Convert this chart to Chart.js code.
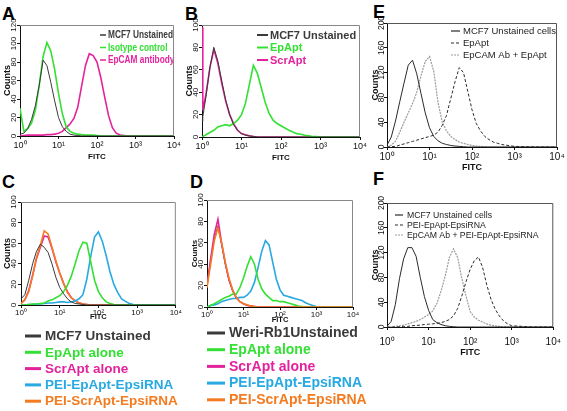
<!DOCTYPE html>
<html>
<head>
<meta charset="utf-8">
<script src="https://cdn.jsdelivr.net/npm/chart.js@4.4.1/dist/chart.umd.min.js"></script>
<style>
  body { margin: 0; background: #fff; width: 567px; height: 411px; position: relative; overflow: hidden; }
  canvas { position: absolute; }
  .tag { position: absolute; font: bold 18px Arial, "Liberation Sans", sans-serif; line-height: 18px; color: #000; }
</style>
</head>
<body>
<div class="tag" style="left:2px;top:5px">A</div>
<div class="tag" style="left:185px;top:5px">B</div>
<div class="tag" style="left:373px;top:3px">E</div>
<div class="tag" style="left:2px;top:173px">C</div>
<div class="tag" style="left:190px;top:173px">D</div>
<div class="tag" style="left:373px;top:170px">F</div>
<canvas id="pA" width="182" height="170" style="left:0;top:0"></canvas>
<canvas id="pB" width="188" height="170" style="left:182px;top:0"></canvas>
<canvas id="pE" width="197" height="175" style="left:370px;top:0"></canvas>
<canvas id="pC" width="182" height="241" style="left:0;top:170px"></canvas>
<canvas id="pD" width="180" height="241" style="left:190px;top:170px"></canvas>
<canvas id="pF" width="197" height="236" style="left:370px;top:175px"></canvas>
<script>
const FONT = 'Arial, "Liberation Sans", sans-serif'

// x positions are log10(FITC) decades, 10^0 .. 10^4
const xTickValues = [0, 1, 2, 3, 4]
const xTickLabels = ['10⁰', '10¹', '10²', '10³', '10⁴']
const yTicks100 = [0, 20, 40, 60, 80, 100]
const yTicks120 = [0, 20, 40, 60, 80, 100, 120]
const yTicks200 = [0, 40, 80, 120, 160, 200]

const fitcDecades = [0, 0.1, 0.2, 0.3, 0.4, 0.5, 0.6, 0.7, 0.8, 0.9, 1.0, 1.1, 1.2, 1.3, 1.4, 1.5, 1.6, 1.7, 1.8, 1.9,
  2.0, 2.1, 2.2, 2.3, 2.4, 2.5, 2.6, 2.7, 2.8, 2.9, 3.0, 3.5, 4.0]
const fitcDecadesB = [0, 0.02, 0.1, 0.2, 0.3, 0.4, 0.5, 0.6, 0.7, 0.8, 0.9, 1.0, 1.1, 1.2, 1.3, 1.4, 1.5, 1.6, 1.7, 1.8, 1.9,
  2.0, 2.1, 2.2, 2.3, 2.4, 2.5, 2.6, 2.7, 2.8, 2.9, 3.0, 3.5, 4.0]

// A
const legendA = ['MCF7 Unstained', 'Isotype control', 'EpCAM antibody']
const aUnstained = [2, 3, 8, 18, 33, 55, 82, 76, 58, 38, 20, 10, 5, 2, 1, 0.5, 0, 0, 0, 0, 0, 0, 0, 0, 0, 0, 0, 0, 0, 0, 0, 0, 0]
const aIsotype = [30, 5, 8, 14, 28, 55, 86, 101, 92, 72, 46, 24, 10, 5, 3, 2, 1.5, 1, 1, 1, 0.5, 0, 0, 0, 0, 0, 0, 0, 0, 0, 0, 0, 0]
const aEpcamAb = [0, 0.5, 1, 1, 1, 1, 1, 1.5, 1.5, 2, 3, 5, 9, 13, 19, 31, 54, 76, 89, 87, 80, 63, 42, 22, 9, 3, 1, 0.5, 0, 0, 0, 0, 0]

// B
const legendB = ['MCF7 Unstained', 'EpApt', 'ScrApt']
const bUnstained = [14, 18, 36, 62, 80, 68, 50, 33, 20, 11, 6, 3, 1.5, 1, 0.5, 0, 0, 0, 0, 0, 0, 0, 0, 0, 0, 0, 0, 0, 0, 0, 0, 0, 0, 0]
const bEpApt = [0, 0.5, 2, 4, 6, 9, 10, 11, 10, 12, 15, 20, 30, 47, 64, 57, 44, 31, 21, 15, 12, 10, 8, 6, 4.5, 3, 2.5, 1.5, 1, 0.5, 0.3, 0, 0, 0]
const bScrApt = [98, 24, 38, 62, 78, 66, 48, 32, 20, 12, 6, 3, 2, 1, 0.5, 0, 0, 0, 0, 0, 0, 0, 0, 0, 0, 0, 0, 0, 0, 0, 0, 0, 0, 0]

// C
const legendC = ['MCF7 Unstained', 'EpApt alone', 'ScrApt alone', 'PEI-EpApt-EpsiRNA', 'PEI-ScrApt-EpsiRNA']
const cUnstained = [6, 10, 24, 40, 52, 59, 56, 51, 40, 27, 17, 11, 6, 3, 1.5, 1, 0.5, 0, 0, 0, 0, 0, 0, 0, 0, 0, 0, 0, 0, 0, 0, 0, 0]
const cEpApt = [0, 0, 0.5, 1, 1, 1.5, 2, 4, 5, 7, 9, 13, 19, 28, 40, 53, 61, 60, 42, 24, 13, 7, 3, 1.5, 0.5, 0, 0, 0, 0, 0, 0, 0, 0]
const cScrApt = [2, 5, 14, 29, 45, 56, 67, 66, 55, 42, 31, 21, 13, 7, 4, 2, 1, 0.5, 0, 0, 0, 0, 0, 0, 0, 0, 0, 0, 0, 0, 0, 0, 0]
const cPeiEpApt = [0, 0, 0.5, 0.5, 1, 1, 1.5, 2, 2, 2.5, 3, 3, 2.5, 3, 4, 6, 10, 25, 47, 66, 71, 62, 48, 32, 20, 12, 6, 3.5, 1.5, 0.5, 0, 0, 0]
const cPeiScrApt = [1, 5, 13, 28, 46, 58, 72, 69, 56, 43, 31, 21, 12, 7, 4, 2, 1, 0.5, 0, 0, 0, 0, 0, 0, 0, 0, 0, 0, 0, 0, 0, 0, 0]

// D
const legendD = ['Weri-Rb1Unstained', 'EpApt alone', 'ScrApt alone', 'PEI-EpApt-EpsiRNA', 'PEI-ScrApt-EpsiRNA']
const dUnstained = [22, 43, 63, 76, 58, 40, 25, 15, 8, 5, 3, 1.5, 1, 0.5, 0, 0, 0, 0, 0, 0, 0, 0, 0, 0, 0, 0, 0, 0, 0, 0, 0, 0, 0]
const dEpApt = [0, 1.5, 3, 5, 7, 9, 10, 12, 12, 18, 27, 38, 47, 40, 26, 17, 12, 9, 6, 6, 5, 5, 4, 3, 2, 1, 0.5, 0, 0, 0, 0, 0, 0]
const dScrApt = [20, 45, 68, 82, 60, 41, 26, 16, 9, 5, 3, 1.5, 1, 0.5, 0, 0, 0, 0, 0, 0, 0, 0, 0, 0, 0, 0, 0, 0, 0, 0, 0, 0, 0]
const dPeiEpApt = [0, 1.5, 2, 3, 5, 6, 7, 8, 8, 9, 9, 11, 15, 23, 37, 52, 62, 58, 42, 26, 16, 11, 10, 9, 8, 7, 6, 4, 2.5, 1.5, 0.5, 0, 0]
const dPeiScrApt = [18, 40, 62, 74, 60, 42, 27, 16, 9, 5, 3, 2, 1, 0.5, 0, 0, 0, 0, 0, 0, 0, 0, 0, 0, 0, 0, 0, 0, 0, 0, 0, 0, 0]

// E
const legendE = ['MCF7 Unstained cells', 'EpApt', 'EpCAM Ab + EpApt']
const eUnstained = [3, 16, 42, 73, 103, 132, 140, 118, 86, 55, 31, 17, 10, 6, 4, 2.5, 1.5, 1, 0.5, 0, 0, 0, 0, 0, 0, 0, 0, 0, 0, 0, 0, 0, 0]
const eEpApt = [0, 0.5, 1, 3, 5, 7, 9, 11, 13, 15, 17, 19, 24, 35, 51, 78, 105, 128, 120, 90, 60, 38, 26, 17, 12, 8, 6, 4, 3, 2, 1, 0, 0]
const eAbEpApt = [0, 3, 9, 24, 40, 55, 70, 88, 115, 138, 146, 122, 72, 40, 26, 17, 12, 8, 6, 4, 2.5, 1.5, 1, 0.5, 0, 0, 0, 0, 0, 0, 0, 0, 0]

// F
const legendF = ['MCF7 Unstained cells', 'PEI-EpApt-EpsiRNA', 'EpCAM Ab + PEI-EpApt-EpsiRNA']
const fUnstained = [1, 9, 36, 78, 110, 128, 128, 114, 80, 49, 27, 12, 7, 4, 2, 1, 0.5, 0, 0, 0, 0, 0, 0, 0, 0, 0, 0, 0, 0, 0, 0, 0, 0]
const fPeiEpApt = [0, 0, 0, 0.5, 1, 1, 2, 2.5, 3, 4, 4.5, 5, 6, 7, 9, 12, 18, 30, 50, 73, 93, 107, 113, 96, 68, 45, 29, 18, 10, 5, 2, 0, 0]
const fAbPeiEpApt = [0, 0, 1, 2, 3, 5, 7, 9, 12, 16, 20, 26, 38, 58, 82, 112, 126, 112, 78, 50, 25, 16, 11, 8, 5, 3, 2, 1, 0.5, 0, 0, 0, 0]

const BLACK = '#3a3a3a', GREEN = '#33e033', PINK = '#e3239c', BLUE = '#27a9e1', ORANGE = '#f47b20'
const DARK = '#2a2a2a', LIGHT = '#9c9c9c'

function series(label, grid, values, color, extra) {
  return Object.assign({
    label: label,
    data: grid.map((d, i) => ({ x: d, y: values[i] })),
    borderColor: color,
    borderWidth: 1.6,
    pointRadius: 0,
    tension: 0,
    fill: false
  }, extra || {})
}

// legend drawn inside / below the plot: short line + label
const lineLegend = {
  id: 'lineLegend',
  afterDraw(chart, args, o) {
    const ctx = chart.ctx
    ctx.save()
    ctx.font = o.font
    ctx.textBaseline = 'middle'
    chart.data.datasets.forEach((ds, i) => {
      const y = o.y + i * o.rowH
      ctx.strokeStyle = ds.borderColor
      ctx.lineWidth = o.lineWidth
      ctx.setLineDash(ds.borderDash || [])
      ctx.beginPath()
      ctx.moveTo(o.x, y)
      ctx.lineTo(o.x + o.lineLen, y)
      ctx.stroke()
      ctx.setLineDash([])
      ctx.fillStyle = o.textColor || ds.borderColor
      ctx.save()
      ctx.translate(o.x + o.lineLen + o.gap, y + 0.5)
      ctx.scale(o.hScale || 1, 1)
      ctx.fillText(ds.label, 0, 0)
      ctx.restore()
    })
    ctx.restore()
  }
}

// rotated y tick labels
const yTickText = {
  id: 'yTickText',
  afterDraw(chart, args, o) {
    const ctx = chart.ctx, scale = chart.scales.y
    ctx.save()
    ctx.font = o.font
    ctx.fillStyle = '#111'
    ctx.textAlign = 'center'
    ctx.textBaseline = 'middle'
    scale.ticks.forEach(t => {
      ctx.save()
      ctx.translate(o.x, scale.getPixelForValue(t.value))
      ctx.rotate(-Math.PI / 2)
      ctx.fillText(String(t.value), 0, 0)
      ctx.restore()
    })
    ctx.restore()
  }
}

// top and right edges of the plot box
const plotFrame = {
  id: 'plotFrame',
  afterDraw(chart, args, o) {
    const { left, right, top, bottom } = chart.chartArea
    const ctx = chart.ctx
    ctx.save()
    ctx.strokeStyle = o.color || '#777'
    ctx.lineWidth = 1
    ctx.beginPath()
    ctx.moveTo(left, top + 0.5)
    ctx.lineTo(right - 0.5, top + 0.5)
    ctx.lineTo(right - 0.5, bottom)
    ctx.stroke()
    ctx.restore()
  }
}

function drawPanel(id, p) {
  new Chart(document.getElementById(id), {
    type: 'line',
    data: { datasets: p.series },
    options: {
      responsive: false,
      animation: false,
      events: [],
      layout: { padding: p.pad },
      plugins: {
        legend: { display: false },
        tooltip: { enabled: false },
        lineLegend: p.legend,
        yTickText: { x: p.yTextX, font: p.yTextFont },
        plotFrame: { color: p.frame }
      },
      scales: {
        x: {
          type: 'linear', min: 0, max: 4,
          afterBuildTicks: s => { s.ticks = xTickValues.map(v => ({ value: v })) },
          afterFit: s => { s.height = p.xHeight },
          ticks: {
            autoSkip: false, maxRotation: 0, padding: p.xTickPad, color: '#111',
            font: { size: p.xTickSize, family: FONT },
            callback: v => xTickLabels[xTickValues.indexOf(v)]
          },
          grid: { drawOnChartArea: false, tickLength: 3, color: '#111' },
          border: { color: '#111' },
          title: { display: true, text: 'FITC', color: '#111', padding: 0,
                   font: { size: p.xTitleSize, weight: 'bold', family: FONT } }
        },
        y: {
          min: 0, max: p.yTicks[p.yTicks.length - 1],
          afterBuildTicks: s => { s.ticks = p.yTicks.map(v => ({ value: v })) },
          afterFit: s => { s.width = p.yWidth },
          ticks: { display: false },
          grid: { drawOnChartArea: false, tickLength: 3, color: '#111' },
          border: { color: '#111' },
          title: { display: true, text: 'Counts', color: '#111', padding: { top: p.yTitlePad, bottom: 0 },
                   font: { size: p.yTitleSize, weight: 'bold', family: FONT } }
        }
      }
    },
    plugins: [lineLegend, yTickText, plotFrame]
  })
}

drawPanel('pA', {
  series: [
    series(legendA[0], fitcDecades, aUnstained, BLACK, { borderWidth: 1 }),
    series(legendA[1], fitcDecades, aIsotype, GREEN),
    series(legendA[2], fitcDecades, aEpcamAb, PINK)
  ],
  yTicks: yTicks120,
  pad: { left: 0, right: 8, top: 25, bottom: 8 }, yWidth: 20, xHeight: 26,
  xTickPad: 1, xTickSize: 9, xTitleSize: 8, yTitlePad: 2.6, yTitleSize: 9,
  yTextX: 14, yTextFont: '8px ' + FONT, frame: '#888',
  legend: { x: 100, y: 35, rowH: 12.5, lineLen: 6, gap: 2, lineWidth: 1.5, hScale: 0.83,
            font: 'bold 10px ' + FONT }
})

drawPanel('pB', {
  series: [
    series(legendB[0], fitcDecadesB, bUnstained, BLACK, { borderWidth: 1 }),
    series(legendB[1], fitcDecadesB, bEpApt, GREEN),
    series(legendB[2], fitcDecadesB, bScrApt, PINK)
  ],
  yTicks: yTicks100,
  pad: { left: 0, right: 10, top: 25, bottom: 7 }, yWidth: 20, xHeight: 26,
  xTickPad: 1, xTickSize: 9, xTitleSize: 8, yTitlePad: 2.6, yTitleSize: 9,
  yTextX: 14, yTextFont: '8px ' + FONT, frame: '#888',
  legend: { x: 75, y: 35, rowH: 12.5, lineLen: 11, gap: 2, lineWidth: 2, font: 'bold 11px ' + FONT }
})

drawPanel('pE', {
  series: [
    series(legendE[0], fitcDecades, eUnstained, DARK, { borderWidth: 1 }),
    series(legendE[1], fitcDecades, eEpApt, DARK, { borderWidth: 1, borderDash: [3, 2] }),
    series(legendE[2], fitcDecades, eAbEpApt, LIGHT, { borderWidth: 1.2, borderDash: [2, 1] })
  ],
  yTicks: yTicks200,
  pad: { left: 0, right: 10, top: 23, bottom: 2 }, yWidth: 17, xHeight: 26,
  xTickPad: 1, xTickSize: 10, xTitleSize: 9, yTitlePad: 0, yTitleSize: 9,
  yTextX: 12, yTextFont: '8.5px ' + FONT, frame: '#555',
  legend: { x: 81, y: 31, rowH: 12, lineLen: 9, gap: 3, lineWidth: 1.2, textColor: '#222', font: '9.5px ' + FONT }
})

drawPanel('pC', {
  series: [
    series(legendC[0], fitcDecades, cUnstained, BLACK, { borderWidth: 1, order: 1 }),
    series(legendC[1], fitcDecades, cEpApt, GREEN, { order: 2 }),
    series(legendC[2], fitcDecades, cScrApt, PINK, { order: 3 }),
    series(legendC[3], fitcDecades, cPeiEpApt, BLUE, { order: 2 }),
    series(legendC[4], fitcDecades, cPeiScrApt, ORANGE, { order: 2 })
  ],
  yTicks: yTicks100,
  pad: { left: 0, right: 6, top: 32, bottom: 90 }, yWidth: 21, xHeight: 16,
  xTickPad: 0, xTickSize: 8, xTitleSize: 7.5, yTitlePad: 2.6, yTitleSize: 9,
  yTextX: 14, yTextFont: '8px ' + FONT, frame: '#888',
  legend: { x: 25, y: 166, rowH: 16.3, lineLen: 16, gap: 4, lineWidth: 3, font: 'bold 13.5px ' + FONT }
})

drawPanel('pD', {
  series: [
    series(legendD[0], fitcDecades, dUnstained, BLACK, { borderWidth: 1, order: 3 }),
    series(legendD[1], fitcDecades, dEpApt, GREEN, { order: 2 }),
    series(legendD[2], fitcDecades, dScrApt, PINK, { order: 2 }),
    series(legendD[3], fitcDecades, dPeiEpApt, BLUE, { order: 2 }),
    series(legendD[4], fitcDecades, dPeiScrApt, ORANGE, { order: 1 })
  ],
  yTicks: yTicks100,
  pad: { left: 0, right: 17, top: 30, bottom: 87 }, yWidth: 17, xHeight: 17,
  xTickPad: 0, xTickSize: 8, xTitleSize: 7.5, yTitlePad: 0, yTitleSize: 8,
  yTextX: 11, yTextFont: '8px ' + FONT, frame: '#888',
  legend: { x: 17, y: 163, rowH: 16.7, lineLen: 18, gap: 4, lineWidth: 3, font: 'bold 14px ' + FONT }
})

drawPanel('pF', {
  series: [
    series(legendF[0], fitcDecades, fUnstained, DARK, { borderWidth: 1 }),
    series(legendF[1], fitcDecades, fPeiEpApt, DARK, { borderWidth: 1, borderDash: [3, 2] }),
    series(legendF[2], fitcDecades, fAbPeiEpApt, LIGHT, { borderWidth: 1.2, borderDash: [2, 1] })
  ],
  yTicks: yTicks200,
  pad: { left: 0, right: 12, top: 28, bottom: 53 }, yWidth: 17, xHeight: 31,
  xTickPad: 6, xTickSize: 10, xTitleSize: 9, yTitlePad: 0, yTitleSize: 9,
  yTextX: 12, yTextFont: '8.5px ' + FONT, frame: '#555',
  legend: { x: 25, y: 40, rowH: 10, lineLen: 8, gap: 4, lineWidth: 1.2, textColor: '#222', font: '8.7px ' + FONT }
})
</script>
</body>
</html>
